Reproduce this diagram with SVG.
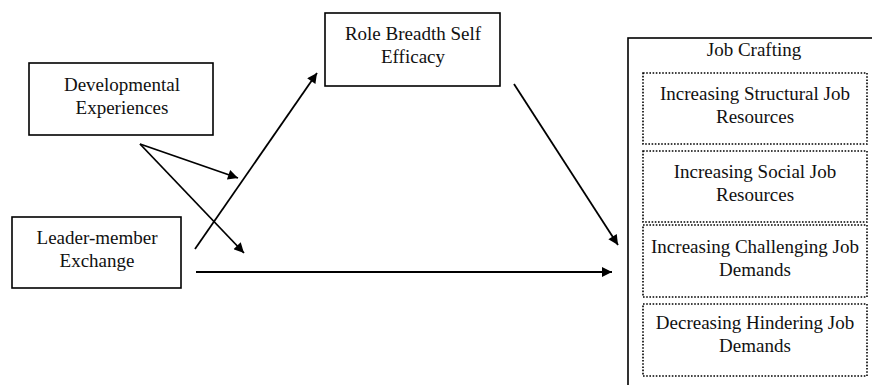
<svg xmlns="http://www.w3.org/2000/svg" width="872" height="385" viewBox="0 0 872 385">
<style>
.box{fill:#fff;stroke:#000;stroke-width:1.6}
.dot{fill:none;stroke:#000;stroke-width:1.6;stroke-dasharray:1.6 1.6}
.t{font-family:"Liberation Serif","Times New Roman",serif;font-size:19px;fill:#111;text-anchor:middle}
.c{stroke:#000;stroke-width:1.8;fill:none;marker-end:url(#ah)}
</style>
<defs>
<marker id="ah" viewBox="0 0 10 10" refX="10" refY="5" markerWidth="12" markerHeight="10" markerUnits="userSpaceOnUse" orient="auto">
<path d="M0,0 L10,5 L0,10 Z" fill="#000"/>
</marker>
</defs>
<rect width="872" height="385" fill="#fff"/>
<g id="connectors">
<line class="c" x1="140" y1="144" x2="238" y2="178"/>
<line class="c" x1="140" y1="144" x2="244" y2="253"/>
<line class="c" x1="195" y1="249" x2="317" y2="73"/>
<line class="c" x1="196" y1="272" x2="612" y2="272"/>
<line class="c" x1="514" y1="84" x2="618" y2="245"/>
</g>
<g id="developmental">
<rect class="box" x="29" y="63" width="184" height="72"/>
<text class="t" x="122" y="91">Developmental</text>
<text class="t" x="122" y="114">Experiences</text>
</g>
<g id="lmx">
<rect class="box" x="12" y="217" width="169" height="71"/>
<text class="t" x="97" y="244">Leader-member</text>
<text class="t" x="97" y="267">Exchange</text>
</g>
<g id="rbse">
<rect class="box" x="325" y="13" width="175" height="73"/>
<text class="t" x="413" y="40">Role Breadth Self</text>
<text class="t" x="413" y="63">Efficacy</text>
</g>
<g id="job-crafting">
<rect class="box" x="628" y="38" width="260" height="360"/>
<text class="t" x="754" y="56">Job Crafting</text>
</g>
<g id="structural">
<rect class="dot" x="643" y="73" width="224" height="71"/>
<text class="t" x="755" y="100">Increasing Structural Job</text>
<text class="t" x="755" y="123">Resources</text>
</g>
<g id="social">
<rect class="dot" x="643" y="151" width="224" height="71"/>
<text class="t" x="755" y="178">Increasing Social Job</text>
<text class="t" x="755" y="201">Resources</text>
</g>
<g id="challenging">
<rect class="dot" x="643" y="225" width="224" height="72"/>
<text class="t" x="755" y="253">Increasing Challenging Job</text>
<text class="t" x="755" y="276">Demands</text>
</g>
<g id="hindering">
<rect class="dot" x="643" y="304" width="224" height="72"/>
<text class="t" x="755" y="329">Decreasing Hindering Job</text>
<text class="t" x="755" y="352">Demands</text>
</g>
</svg>
